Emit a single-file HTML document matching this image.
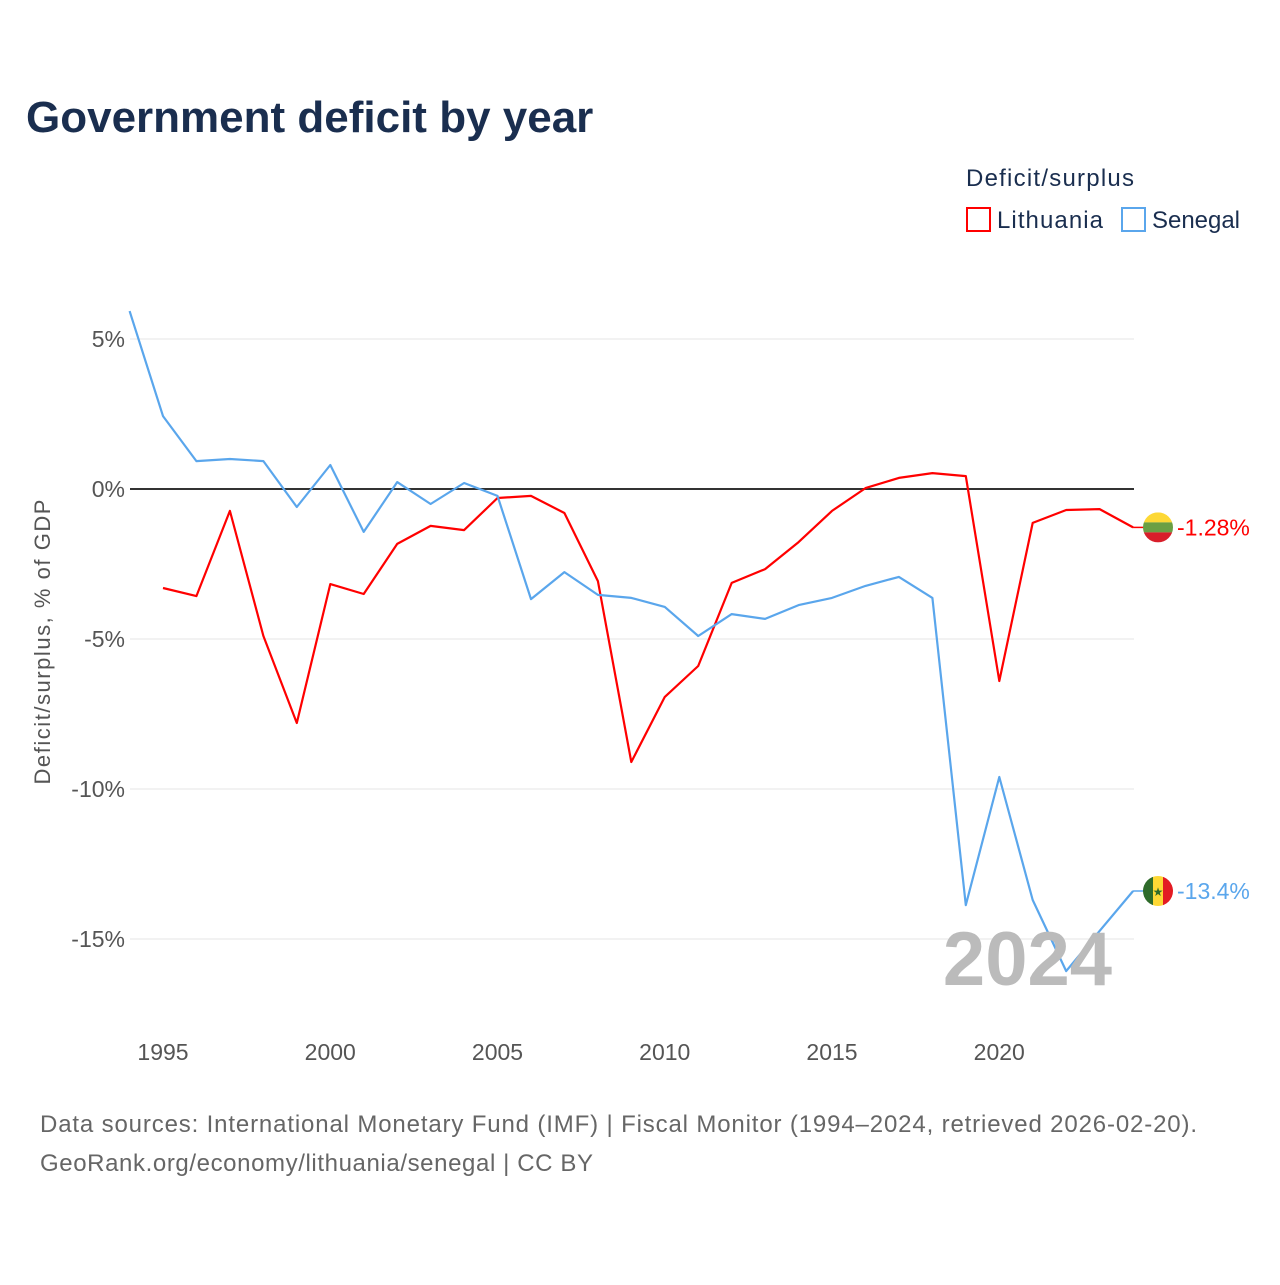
<!DOCTYPE html>
<html><head><meta charset="utf-8"><style>
html,body{margin:0;padding:0;background:#fff;}
body{width:1280px;height:1280px;overflow:hidden;font-family:"Liberation Sans",sans-serif;}
</style></head><body>
<svg id="chart" width="1280" height="1280" xmlns="http://www.w3.org/2000/svg">
<text x="26" y="132" font-size="44" font-weight="bold" fill="#1a2e4f">Government deficit by year</text>
<text x="966" y="186" font-size="24" fill="#1a2e4f" textLength="168">Deficit/surplus</text>
<g><rect x="967" y="208" width="23" height="23" fill="none" stroke="#f00" stroke-width="2"/><text x="997" y="228" font-size="24" fill="#1a2e4f" textLength="106">Lithuania</text></g>
<g><rect x="1122" y="208" width="23" height="23" fill="none" stroke="#5aa6ec" stroke-width="2"/><text x="1152" y="228" font-size="24" fill="#1a2e4f" textLength="88">Senegal</text></g>
<g id="grid"></g><g id="xaxis"></g><g id="lines"></g>
<text x="1112" y="985" font-size="76" font-weight="bold" fill="#bbb" text-anchor="end">2024</text>
<text transform="translate(50,642) rotate(-90)" font-size="22" fill="#555" text-anchor="middle" textLength="285">Deficit/surplus, % of GDP</text>
<text x="40" y="1132" font-size="24" fill="#666" textLength="1157">Data sources: International Monetary Fund (IMF) | Fiscal Monitor (1994–2024, retrieved 2026-02-20).</text>
<text x="40" y="1171" font-size="24" fill="#666" textLength="553">GeoRank.org/economy/lithuania/senegal | CC BY</text>
</svg>
<script>
const years=[1994,1995,1996,1997,1998,1999,2000,2001,2002,2003,2004,2005,2006,2007,2008,2009,2010,2011,2012,2013,2014,2015,2016,2017,2018,2019,2020,2021,2022,2023,2024];
const senegal=[5.93,2.43,0.93,1.0,0.93,-0.6,0.8,-1.43,0.23,-0.5,0.2,-0.23,-3.67,-2.77,-3.53,-3.63,-3.93,-4.9,-4.17,-4.33,-3.87,-3.63,-3.23,-2.93,-3.63,-13.87,-9.6,-13.7,-16.07,-14.73,-13.4];
const lithuania=[null,-3.3,-3.57,-0.73,-4.9,-7.8,-3.17,-3.5,-1.83,-1.23,-1.37,-0.3,-0.23,-0.8,-3.07,-9.1,-6.93,-5.9,-3.13,-2.67,-1.77,-0.73,0.03,0.37,0.53,0.43,-6.4,-1.13,-0.7,-0.67,-1.28];
const yTicks=[5,0,-5,-10,-15];
const yTickLabels=["5%","0%","-5%","-10%","-15%"];
const xTicks=[1995,2000,2005,2010,2015,2020];
const NS="http://www.w3.org/2000/svg";
function X(yr){return 163+(yr-1995)*33.45;}
function Y(v){return 489-v*30;}
function mk(tag,attrs,parent){const e=document.createElementNS(NS,tag);for(const k in attrs)e.setAttribute(k,attrs[k]);parent.appendChild(e);return e;}
const grid=document.getElementById('grid');
yTicks.forEach((t,i)=>{
 const l=mk('line',{x1:130,x2:1134,y1:Y(t),y2:Y(t),stroke:t===0?'#333':'#e6e6e6','stroke-width':t===0?2:1},grid);
 
 
 const tx=mk('text',{x:125,y:Y(t)+8,'font-size':23,fill:'#555','text-anchor':'end'},grid);
 tx.textContent=yTickLabels[i];
 
 
});
const xa=document.getElementById('xaxis');
xTicks.forEach(t=>{
 const tx=mk('text',{x:X(t),y:1060,'font-size':23,fill:'#555','text-anchor':'middle'},xa);
 tx.textContent=t;
 
 
});
const lines=document.getElementById('lines');
function series(vals,color,name){
 let d='';vals.forEach((v,i)=>{if(v===null)return;d+=(d?'L':'M')+X(years[i]).toFixed(1)+','+Y(v).toFixed(1);});
 const p=mk('path',{d:d,fill:'none',stroke:color,'stroke-width':2.2,'stroke-linejoin':'round'},lines);
 
 
 const last=vals[vals.length-1];const lx=X(years[years.length-1]),ly=Y(last);
 mk('line',{x1:lx,x2:1146,y1:ly,y2:ly,stroke:color,'stroke-width':1.5},lines);
 const lbl=mk('text',{x:1177,y:ly+8,'font-size':23,fill:color},lines);
 lbl.textContent=(Math.abs(last)<10?last.toFixed(2):last.toFixed(1))+'%';
 
 
 return ly;
}
const ly1=series(lithuania,'#f00','lithuania');
const ly2=series(senegal,'#5aa6ec','senegal');
const f1=mk('g',{},lines);


const cp1=mk('clipPath',{id:'c1'},f1);mk('circle',{cx:1158,cy:ly1,r:15},cp1);
const g1=mk('g',{'clip-path':'url(#c1)'},f1);
mk('rect',{x:1143,y:ly1-15,width:30,height:10,fill:'#fdd835'},g1);
mk('rect',{x:1143,y:ly1-5,width:30,height:10,fill:'#6a9f44'},g1);
mk('rect',{x:1143,y:ly1+5,width:30,height:10,fill:'#d81e2a'},g1);
const f2=mk('g',{},lines);


const cp2=mk('clipPath',{id:'c2'},f2);mk('circle',{cx:1158,cy:ly2,r:15},cp2);
const g2=mk('g',{'clip-path':'url(#c2)'},f2);
mk('rect',{x:1143,y:ly2-15,width:10,height:30,fill:'#2e6b2a'},g2);
mk('rect',{x:1153,y:ly2-15,width:10,height:30,fill:'#fdd835'},g2);
mk('rect',{x:1163,y:ly2-15,width:10,height:30,fill:'#e31b23'},g2);
const st=mk('text',{x:1158,y:ly2+5,'font-size':12,fill:'#2e6b2a','text-anchor':'middle'},g2);st.textContent='★';
</script>
</body></html>
